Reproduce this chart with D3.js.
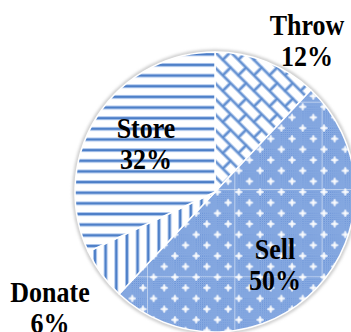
<!DOCTYPE html>
<html>
<head>
<meta charset="utf-8">
<script src="https://cdn.jsdelivr.net/npm/d3@7"></script>
<style>
  html, body { margin: 0; padding: 0; background: #fff; }
  svg { display: block; }
</style>
</head>
<body>
<svg id="chart" width="351" height="332"></svg>
<script>
// Waste-handling shares (percent of items)
const categories = ["Throw", "Sell", "Donate", "Store"];
const shares = [12, 50, 6, 32];

const W = 351, H = 332;
const cx = 215, cy = 192, R = 140;

// label anchors (baseline of first line)
const labelAnchor = {
  Throw: [307, 35],
  Store: [146, 138],
  Sell: [275, 259],
  Donate: [50, 302]
};
const patternOf = { Throw: "brick", Sell: "dots", Donate: "vstripe", Store: "hstripe" };

const svg = d3.select("#chart");
const defs = svg.append("defs");

const blue = "#4c7ec7", halo = "#adc6ec";
const step = 10.65;

// horizontal stripes
const hs = defs.append("pattern").attr("id", "hstripe")
  .attr("patternUnits", "userSpaceOnUse")
  .attr("width", 20).attr("height", step)
  .attr("y", 54.3 - 2 - cy);
hs.append("rect").attr("width", 20).attr("height", step).attr("fill", "#fff");
hs.append("rect").attr("y", 0).attr("width", 20).attr("height", 4).attr("fill", halo);
hs.append("rect").attr("y", 1).attr("width", 20).attr("height", 2).attr("fill", blue);

// vertical stripes
const vs = defs.append("pattern").attr("id", "vstripe")
  .attr("patternUnits", "userSpaceOnUse")
  .attr("width", step).attr("height", 20)
  .attr("x", 95 - 2 - cx);
vs.append("rect").attr("width", step).attr("height", 20).attr("fill", "#fff");
vs.append("rect").attr("x", 0).attr("width", 4).attr("height", 20).attr("fill", halo);
vs.append("rect").attr("x", 1).attr("width", 2).attr("height", 20).attr("fill", blue);

// diagonal brick
const bw = 22, bh = 11;
const br = defs.append("pattern").attr("id", "brick")
  .attr("patternUnits", "userSpaceOnUse")
  .attr("width", bw).attr("height", bh * 2)
  .attr("patternTransform", "rotate(45)");
br.append("rect").attr("width", bw).attr("height", bh * 2).attr("fill", "#fff");
const brickLines = [
  [0, 0, bw, 0], [0, bh, bw, bh], [0, bh * 2, bw, bh * 2],
  [0, 0, 0, bh], [bw, 0, bw, bh], [bw / 2, bh, bw / 2, bh * 2]
];
brickLines.forEach(l => br.append("line")
  .attr("x1", l[0]).attr("y1", l[1]).attr("x2", l[2]).attr("y2", l[3])
  .attr("stroke", "#a9c3ea").attr("stroke-width", 3.6)
  .attr("stroke-linecap", "round"));
brickLines.forEach(l => br.append("line")
  .attr("x1", l[0]).attr("y1", l[1]).attr("x2", l[2]).attr("y2", l[3])
  .attr("stroke", "#5586cc").attr("stroke-width", 1.6)
  .attr("stroke-linecap", "round"));

// fine checker
const ck = defs.append("pattern").attr("id", "checker")
  .attr("patternUnits", "userSpaceOnUse")
  .attr("width", 2).attr("height", 2);
ck.append("rect").attr("width", 2).attr("height", 2).attr("fill", "#9dbae9");
ck.append("rect").attr("width", 1).attr("height", 1).attr("fill", "#5f8bd3");
ck.append("rect").attr("x", 1).attr("y", 1).attr("width", 1).attr("height", 1).attr("fill", "#729ada");

// white sparkles on diamond lattice
const sp = 2 * step;
const st = defs.append("pattern").attr("id", "dots")
  .attr("patternUnits", "userSpaceOnUse")
  .attr("width", sp).attr("height", sp)
  .attr("x", 324 - cx).attr("y", 170.7 - cy);
st.append("rect").attr("width", sp).attr("height", sp).attr("fill", "url(#checker)");
const star = (x, y) => {
  st.append("circle").attr("cx", x).attr("cy", y).attr("r", 2.6).attr("fill", "#fff").attr("opacity", 0.5);
  st.append("rect").attr("x", x - 3.6).attr("y", y - 0.7).attr("width", 7.2).attr("height", 1.4).attr("fill", "#fff");
  st.append("rect").attr("x", x - 0.7).attr("y", y - 3.6).attr("width", 1.4).attr("height", 7.2).attr("fill", "#fff");
};
[[0, 0], [sp, 0], [0, sp], [sp, sp], [step, step]].forEach(p => star(p[0], p[1]));

// faint tile seams across the dotted fill
const seamStep = 8 * step + 2.1;
const sm = defs.append("pattern").attr("id", "seams")
  .attr("patternUnits", "userSpaceOnUse")
  .attr("width", seamStep).attr("height", seamStep)
  .attr("x", 147 - cx).attr("y", 189 - cy);
sm.append("rect").attr("width", seamStep).attr("height", 1).attr("fill", "#fff").attr("opacity", 0.45);
sm.append("rect").attr("width", 1).attr("height", seamStep).attr("fill", "#fff").attr("opacity", 0.45);

// soft outer shadow
const sh = defs.append("filter").attr("id", "shadow")
  .attr("x", "-10%").attr("y", "-10%").attr("width", "120%").attr("height", "120%");
sh.append("feGaussianBlur").attr("stdDeviation", 1.5);

const g = svg.append("g").attr("transform", `translate(${cx},${cy})`);

g.append("circle").attr("r", R + 1)
  .attr("fill", "none").attr("stroke", "#c4c4c4").attr("stroke-width", 3)
  .attr("filter", "url(#shadow)");

const pie = d3.pie().sort(null).value(d => d);
const arcs = pie(shares);
const arc = d3.arc().innerRadius(0).outerRadius(R);

g.selectAll("path.slice").data(arcs).join("path")
  .attr("class", "slice")
  .attr("d", arc)
  .attr("fill", (d, i) => `url(#${patternOf[categories[i]]})`)
  .attr("stroke", "#fff").attr("stroke-width", 1.5)
  .attr("stroke-linejoin", "round");

// seams only over the dotted slice
g.selectAll("path.seam").data(arcs.filter((d, i) => patternOf[categories[i]] === "dots")).join("path")
  .attr("class", "seam")
  .attr("d", d3.arc().innerRadius(0).outerRadius(R - 1))
  .attr("fill", "url(#seams)");

// labels
const lab = svg.append("g")
  .attr("font-family", "'Liberation Serif', 'Times New Roman', serif")
  .attr("font-weight", "bold").attr("font-size", 26)
  .attr("fill", "#000").attr("text-anchor", "middle");

categories.forEach((c, i) => {
  const [x, y] = labelAnchor[c];
  const t = lab.append("text").attr("transform", `translate(${x},${y}) scale(1,1.12)`);
  t.append("tspan").attr("x", 0).attr("y", 0).text(c);
  t.append("tspan").attr("x", 0).attr("y", 27.5).text(shares[i] + "%");
});
</script>
</body>
</html>
